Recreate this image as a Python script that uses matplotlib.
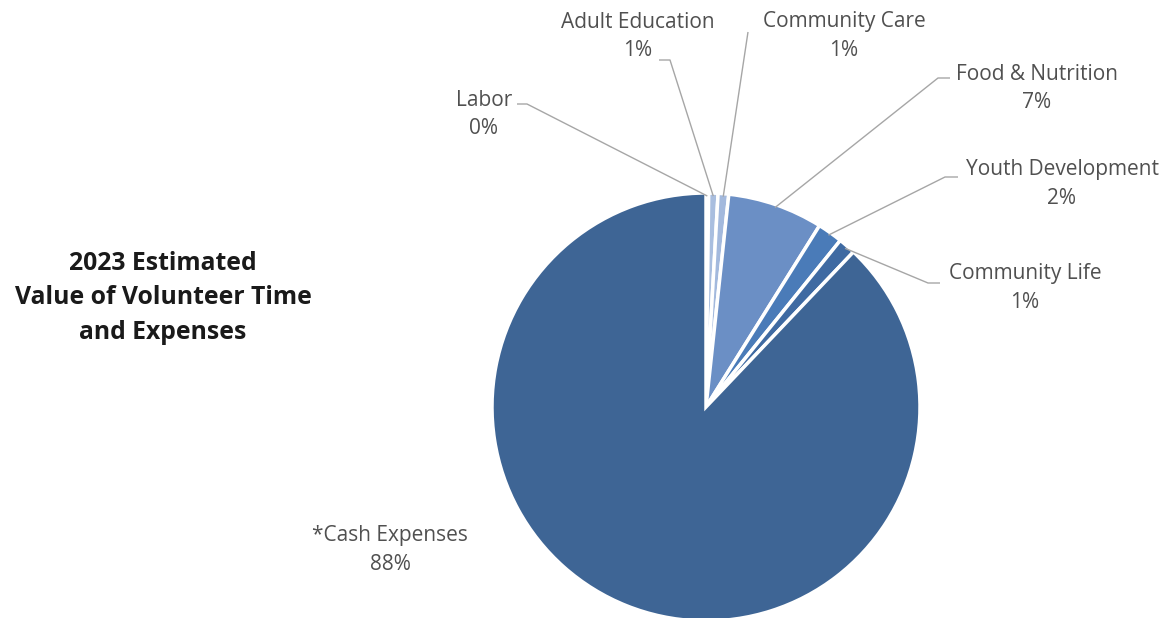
import numpy as np
import matplotlib
matplotlib.use("Agg")
import matplotlib.pyplot as plt

# slice data (clockwise from the top)
categories = ["Labor", "Adult Education", "Community Care", "Food & Nutrition",
              "Youth Development", "Community Life", "*Cash Expenses"]
shares = [0.2, 0.7, 0.8, 7.2, 1.9, 1.3, 87.9]
pct_labels = ["0%", "1%", "1%", "7%", "2%", "1%", "88%"]
colors = ["#b4c6e4", "#a9bedf", "#a3b9dd", "#6b8fc5", "#4a7bb8", "#3f6aa2", "#3e6595"]

W, H = 1167, 618
fig = plt.figure(figsize=(W / 100, H / 100), dpi=100)
ax = fig.add_axes([0, 0, 1, 1])

cx, cy, R = 706, H - 407, 214
wedges, _ = ax.pie(shares, colors=colors, startangle=90, counterclock=False,
                   center=(cx, cy), radius=R,
                   wedgeprops=dict(edgecolor="white", linewidth=2.5))
ax.set_xlim(0, W)
ax.set_ylim(0, H)
ax.set_aspect("auto")
ax.axis("off")

# label layout: text centre x, y of first line (pixels from top)
layout = [(484, 100), (638, 22), (844, 22), (1037, 74), (1062, 169), (1025, 274), (390, 535)]
# leader elbows: (start x, bend x, y)
elbows = [(517, 527, 104), (659, 670, 60), (748, 748, 32), (950, 938, 78),
          (958, 945, 177), (940, 928, 283), None]

fs = 15
font = ["Open Sans", "DejaVu Sans"]
tc = "#505050"
for i, w in enumerate(wedges):
    tx, ty = layout[i]
    ax.text(tx, H - ty, categories[i], ha="center", va="center", fontsize=fs,
            color=tc, family=font)
    ax.text(tx, H - ty - 29, pct_labels[i], ha="center", va="center",
            fontsize=fs, color=tc, family=font)
    if elbows[i] is None:
        continue
    mid = np.deg2rad((w.theta1 + w.theta2) / 2)
    ax_x = cx + (R - 3) * np.cos(mid)
    ax_y = cy + (R - 3) * np.sin(mid)
    x0, x1, ey = elbows[i]
    ax.plot([x0, x1, ax_x], [H - ey, H - ey, ax_y], color="#a6a6a6", lw=1.0,
            solid_capstyle="butt")

ax.text(163, H - 298, "2023 Estimated\nValue of Volunteer Time\nand Expenses",
        ha="center", va="center", fontsize=17.8, fontweight="bold",
        color="#1a1a1a", family=font, linespacing=1.5)

fig.savefig("out.png", dpi=100)
